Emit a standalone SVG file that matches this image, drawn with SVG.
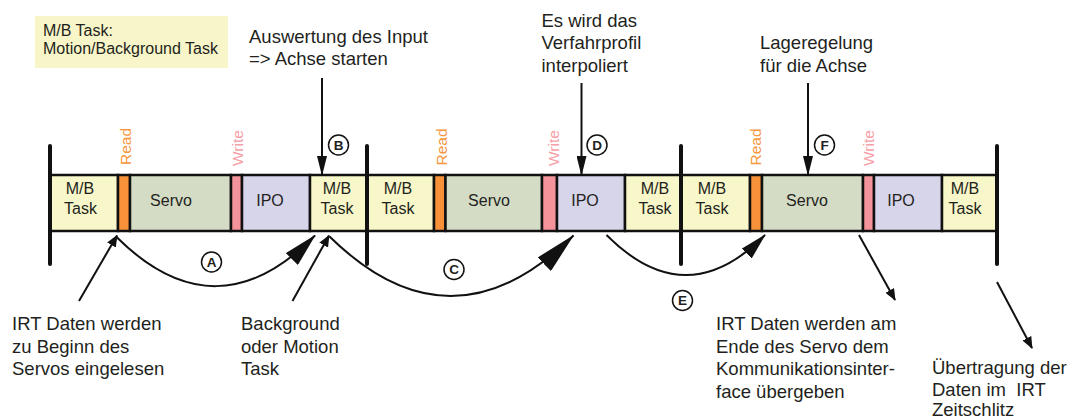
<svg xmlns="http://www.w3.org/2000/svg" width="1079" height="419" viewBox="0 0 1079 419">
  <style>
    .t { font-family: "Liberation Sans", Arial, sans-serif; fill: #231f20; }
    .ann { font-size: 18.5px; }
    .lbl { font-size: 16px; text-anchor: middle; }
    .leg { font-size: 16px; }
    .mb { fill: #f8f7c9; stroke: #111; stroke-width: 2.5; }
    .servo { fill: #d5dcc6; stroke: #111; stroke-width: 2.5; }
    .ipo { fill: #d7d5ea; stroke: #111; stroke-width: 2.5; }
    .rd { fill: #f7923a; stroke: #111; stroke-width: 2.5; }
    .wr { fill: #f4939a; stroke: #111; stroke-width: 2.5; }
    .rdt { font-family: "Liberation Sans", Arial, sans-serif; font-size: 15.5px; fill: #f7963c; }
    .wrt { font-family: "Liberation Sans", Arial, sans-serif; font-size: 15.5px; fill: #f5a0a6; }
    .cycle { stroke: #111; stroke-width: 4; stroke-linecap: round; fill: none; }
    .conn { stroke: #111; stroke-width: 2; fill: none; }
    .tag circle { fill: #fff; stroke: #111; stroke-width: 1.5; }
    .tag text { font-family: "Liberation Sans", Arial, sans-serif; font-size: 13.5px; font-weight: bold; fill: #231f20; text-anchor: middle; }
  </style>
  <defs>
    <marker id="ah-sm" markerUnits="userSpaceOnUse" viewBox="0 0 12 10" refX="11" refY="5" markerWidth="12" markerHeight="10" orient="auto">
      <path d="M0,0 L12,5 L0,10 z" fill="#111"/>
    </marker>
    <marker id="ah-v" markerUnits="userSpaceOnUse" viewBox="0 0 20 10" refX="19" refY="5" markerWidth="20" markerHeight="10" orient="auto">
      <path d="M0,0 L20,5 L0,10 z" fill="#111"/>
    </marker>
    <marker id="ah-a" markerUnits="userSpaceOnUse" viewBox="0 0 34 17" refX="33" refY="8.5" markerWidth="34" markerHeight="17" orient="auto">
      <path d="M0,0 L34,8.5 L0,17 z" fill="#111"/>
    </marker>
    <marker id="ah-c" markerUnits="userSpaceOnUse" viewBox="0 0 42 19" refX="41" refY="9.5" markerWidth="42" markerHeight="19" orient="auto">
      <path d="M0,0 L42,9.5 L0,19 z" fill="#111"/>
    </marker>
    <marker id="ah-e" markerUnits="userSpaceOnUse" viewBox="0 0 27 14" refX="26" refY="7" markerWidth="27" markerHeight="14" orient="auto">
      <path d="M0,0 L27,7 L0,14 z" fill="#111"/>
    </marker>
  </defs>

  <rect width="1079" height="419" fill="#fff"/>

  <!-- legend -->
  <g id="legend">
    <rect x="35" y="16" width="193" height="52" fill="#f8f6c8"/>
    <text class="t leg" x="43" y="36">M/B Task:</text>
    <text class="t leg" x="43" y="53.5">Motion/Background Task</text>
  </g>

  <!-- cycle 1 -->
  <g id="mb1"><rect class="mb" x="50" y="175" width="68" height="56"/><text class="t lbl" x="80" y="194">M/B</text><text class="t lbl" x="80.5" y="214">Task</text></g>
  <g id="read1"><rect class="rd" x="118" y="175" width="12" height="56"/><text class="rdt" transform="translate(130.5,165) rotate(-90)">Read</text></g>
  <g id="servo1"><rect class="servo" x="130" y="175" width="101" height="56"/><text class="t lbl" x="171" y="206">Servo</text></g>
  <g id="write1"><rect class="wr" x="231" y="175" width="11" height="56"/><text class="wrt" transform="translate(243,166) rotate(-90)">Write</text></g>
  <g id="ipo1"><rect class="ipo" x="242" y="175" width="68" height="56"/><text class="t lbl" x="270" y="206">IPO</text></g>
  <g id="mb2"><rect class="mb" x="310" y="175" width="57" height="56"/><text class="t lbl" x="337" y="194">M/B</text><text class="t lbl" x="337" y="214">Task</text></g>

  <!-- cycle 2 -->
  <g id="mb3"><rect class="mb" x="367" y="175" width="67" height="56"/><text class="t lbl" x="398" y="194">M/B</text><text class="t lbl" x="398" y="214">Task</text></g>
  <g id="read2"><rect class="rd" x="434" y="175" width="11.5" height="56"/><text class="rdt" transform="translate(446.5,165.5) rotate(-90)">Read</text></g>
  <g id="servo2"><rect class="servo" x="445.5" y="175" width="96.5" height="56"/><text class="t lbl" x="489" y="206">Servo</text></g>
  <g id="write2"><rect class="wr" x="542" y="175" width="15" height="56"/><text class="wrt" transform="translate(559,166) rotate(-90)">Write</text></g>
  <g id="ipo2"><rect class="ipo" x="557" y="175" width="68" height="56"/><text class="t lbl" x="585" y="206">IPO</text></g>
  <g id="mb4"><rect class="mb" x="625" y="175" width="56" height="56"/><text class="t lbl" x="655" y="194">M/B</text><text class="t lbl" x="655" y="214">Task</text></g>

  <!-- cycle 3 -->
  <g id="mb5"><rect class="mb" x="681" y="175" width="69" height="56"/><text class="t lbl" x="712" y="194">M/B</text><text class="t lbl" x="712" y="214">Task</text></g>
  <g id="read3"><rect class="rd" x="750" y="175" width="12" height="56"/><text class="rdt" transform="translate(760.5,165.5) rotate(-90)">Read</text></g>
  <g id="servo3"><rect class="servo" x="762" y="175" width="101" height="56"/><text class="t lbl" x="807" y="206">Servo</text></g>
  <g id="write3"><rect class="wr" x="863" y="175" width="11" height="56"/><text class="wrt" transform="translate(873.5,166) rotate(-90)">Write</text></g>
  <g id="ipo3"><rect class="ipo" x="874" y="175" width="68" height="56"/><text class="t lbl" x="901" y="206">IPO</text></g>
  <g id="mb6"><rect class="mb" x="942" y="175" width="55" height="56"/><text class="t lbl" x="965" y="194">M/B</text><text class="t lbl" x="965" y="214">Task</text></g>

  <!-- cycle boundaries -->
  <g id="cycle-marks">
    <line class="cycle" x1="50" y1="146" x2="50" y2="264"/>
    <line class="cycle" x1="367" y1="146" x2="367" y2="264"/>
    <line class="cycle" x1="681" y1="146" x2="681" y2="264"/>
    <line class="cycle" x1="997" y1="146" x2="997" y2="264"/>
  </g>

  <!-- annotations -->
  <g id="note-b"><text class="t ann" x="249" y="43">Auswertung des Input</text><text class="t ann" x="249" y="65">=&gt; Achse starten</text></g>
  <g id="note-d"><text class="t ann" x="541.5" y="26.5">Es wird das</text><text class="t ann" x="541.5" y="49">Verfahrprofil</text><text class="t ann" x="541.5" y="71.5">interpoliert</text></g>
  <g id="note-f"><text class="t ann" x="760" y="49">Lageregelung</text><text class="t ann" x="760" y="71.5">für die Achse</text></g>
  <g id="note-read"><text class="t ann" x="12" y="330">IRT Daten werden</text><text class="t ann" x="12" y="352.5">zu Beginn des</text><text class="t ann" x="12" y="375">Servos eingelesen</text></g>
  <g id="note-task"><text class="t ann" x="241" y="330">Background</text><text class="t ann" x="241" y="352.5">oder Motion</text><text class="t ann" x="241" y="375">Task</text></g>
  <g id="note-write"><text class="t ann" x="716" y="330">IRT Daten werden am</text><text class="t ann" x="716" y="352.5">Ende des Servo dem</text><text class="t ann" x="716" y="375">Kommunikationsinter-</text><text class="t ann" x="716" y="397.5">face übergeben</text></g>
  <g id="note-irt"><text class="t ann" x="932" y="374">Übertragung der</text><text class="t ann" x="932" y="396" style="white-space:pre">Daten im  IRT</text><text class="t ann" x="932" y="416">Zeitschlitz</text></g>

  <!-- connectors -->
  <g id="connectors">
    <line class="conn" x1="322" y1="78" x2="322" y2="175" marker-end="url(#ah-v)"/>
    <line class="conn" x1="581.5" y1="83" x2="581.5" y2="175" marker-end="url(#ah-v)"/>
    <line class="conn" x1="808" y1="83" x2="808" y2="175" marker-end="url(#ah-v)"/>
    <line class="conn" x1="79" y1="301" x2="117" y2="235.5" marker-end="url(#ah-sm)"/>
    <line class="conn" x1="292.5" y1="301" x2="329" y2="235.5" marker-end="url(#ah-sm)"/>
    <line class="conn" x1="859" y1="235" x2="895" y2="300" marker-end="url(#ah-sm)"/>
    <line class="conn" x1="997" y1="282" x2="1032" y2="348" marker-end="url(#ah-sm)"/>
    <path class="conn" d="M116.5,237 Q216,336 315,235.5" marker-end="url(#ah-a)"/>
    <path class="conn" d="M329.5,236.5 Q451,356 573.5,235.5" marker-end="url(#ah-c)"/>
    <path class="conn" d="M606.5,235 Q686,315 765,235" marker-end="url(#ah-e)"/>
  </g>

  <!-- step tags -->
  <g id="tag-a" class="tag"><circle cx="211.5" cy="262" r="10"/><text x="211.5" y="266.8">A</text></g>
  <g id="tag-b" class="tag"><circle cx="338.5" cy="145" r="10"/><text x="338.5" y="149.8">B</text></g>
  <g id="tag-c" class="tag"><circle cx="454" cy="269.5" r="10"/><text x="454" y="274.3">C</text></g>
  <g id="tag-d" class="tag"><circle cx="597" cy="145" r="10"/><text x="597" y="149.8">D</text></g>
  <g id="tag-e" class="tag"><circle cx="682.5" cy="300.5" r="10"/><text x="682.5" y="305.3">E</text></g>
  <g id="tag-f" class="tag"><circle cx="824.5" cy="145" r="10"/><text x="824.5" y="149.8">F</text></g>
</svg>
